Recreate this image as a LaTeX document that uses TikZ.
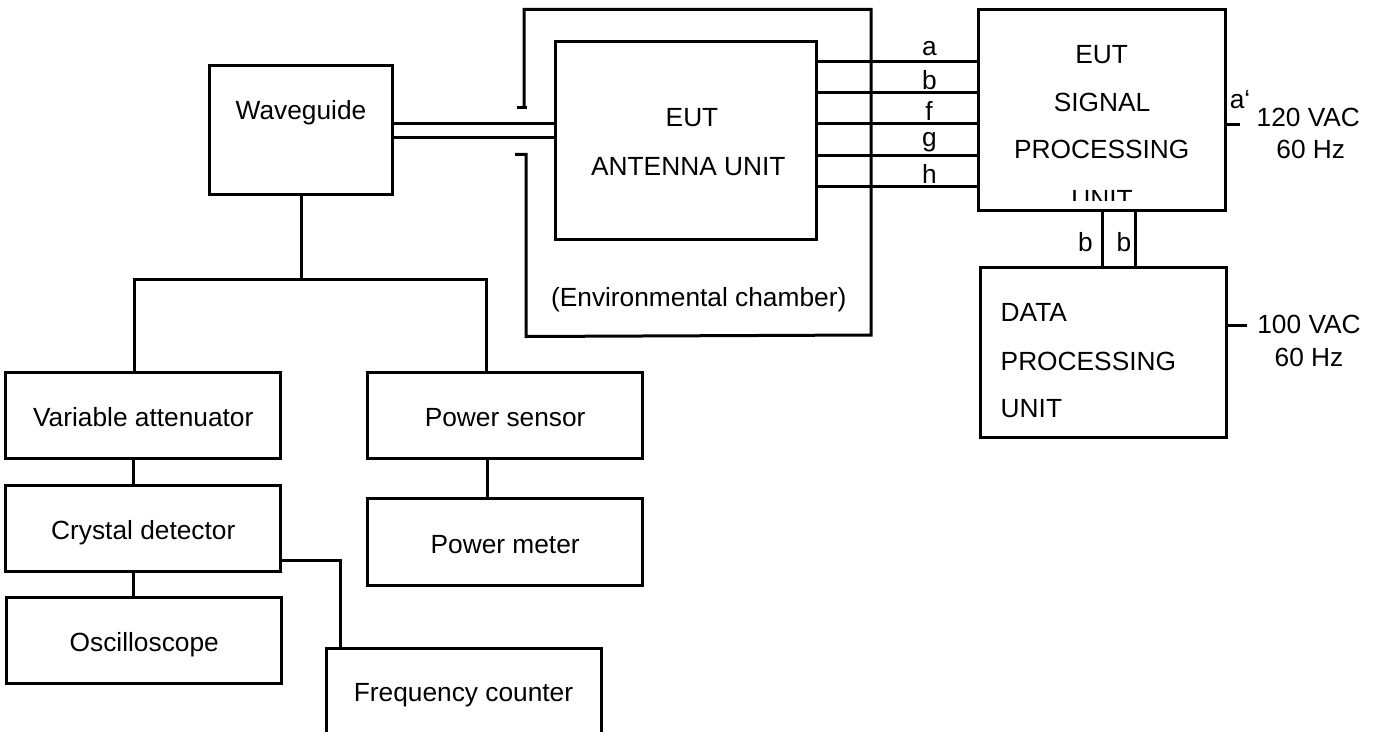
\documentclass[tikz,border=0pt]{standalone}
\usepackage{fontspec}
\setmainfont{Liberation Sans}
\begin{document}
\begin{tikzpicture}[x=1pt,y=-1pt,
  every node/.style={font=\fontsize{26.3}{31}\selectfont, inner sep=0pt, outer sep=0pt},
  box/.style={draw, line width=3pt, rectangle},
  lbox/.style={box, text height=22.8pt, text depth=0pt},
  txt/.style={anchor=base},
  ltxt/.style={anchor=base west},
  wire/.style={line width=3pt},
]
\useasboundingbox (0,0) rectangle (1381,731);
\begin{scope}
\clip (0,0) rectangle (1381,731);
% boxes
\node[box, minimum width=183.3pt, minimum height=129.3pt] (wg) at (301.3,129.7) {};
\node[box, minimum width=260.7pt, minimum height=197.6pt] (ant) at (686.3,140.5) {};
\node[box, minimum width=247.4pt, minimum height=201.4pt] (sig) at (1102,110) {};
\node[box, minimum width=246.7pt, minimum height=169.6pt] (dp) at (1103.35,352.5) {};
\node[lbox, minimum width=274.9pt, minimum height=86pt] (va) at (143.25,415.3) {Variable attenuator};
\node[lbox, minimum width=274.9pt, minimum height=85.6pt] (cd) at (143.25,528.5) {Crystal detector};
\node[lbox, minimum width=275.3pt, minimum height=85.6pt] (osc) at (144.25,640.5) {Oscilloscope};
\node[lbox, minimum width=274.9pt, minimum height=86pt] (ps) at (505.15,415.3) {Power sensor};
\node[lbox, minimum width=274.9pt, minimum height=87pt] (pm) at (505.15,542.2) {Power meter};
\node[box, minimum width=274.9pt, minimum height=131.4pt] (fc) at (463.75,714) {};
% texts
\node[txt] (wgt) at (301,119.3) {Waveguide};
\node[txt] (antt1) at (692,126.7) {EUT};
\node[txt] (antt2) at (688.3,175) {ANTENNA UNIT};
\node[txt] (cht) at (698.7,306) {(Environmental chamber)};
\node[txt] (sigt1) at (1101.7,63.3) {EUT};
\node[txt] (sigt2) at (1102,111) {SIGNAL};
\node[txt] (sigt3) at (1101.7,158.3) {PROCESSING};
\begin{scope}
\clip (980,150) rectangle (1224,200);
\node[txt] (sigt4) at (1102,208.6) {UNIT};
\end{scope}
\node[ltxt] (dpt1) at (1000.7,321.7) {DATA};
\node[ltxt] (dpt2) at (1000.7,370) {PROCESSING};
\node[ltxt] (dpt3) at (1000.7,417.3) {UNIT};
\node[txt] (fct) at (463.5,701.7) {Frequency counter};
\node[txt] (la) at (929.5,55) {a};
\node[txt] (lb) at (929.5,89.5) {b};
\node[txt] (lf) at (929,120.5) {f};
\node[txt] (lg) at (929.5,146.5) {g};
\node[txt] (lh) at (929.5,183.5) {h};
\node[txt] (lap) at (1240,108) {a‘};
\node[txt] (v1) at (1308.3,126.7) {120 VAC};
\node[txt] (f1) at (1310.8,158.3) {60 Hz};
\node[txt] (v2) at (1309,333.3) {100 VAC};
\node[txt] (f2) at (1309,366.7) {60 Hz};
\node[txt] (lb1) at (1085.5,251.7) {b};
\node[txt] (lb2) at (1124,251.7) {b};
% helper coordinates
\coordinate (w1) at (0,61);
\coordinate (w2) at (0,92.3);
\coordinate (w3) at (0,123.5);
\coordinate (w4) at (0,155);
\coordinate (w5) at (0,186);
\coordinate (d1) at (0,123.3);
\coordinate (d2) at (0,137.7);
\coordinate (tl) at (134,279);
\coordinate (tr) at (486.4,279);
\coordinate (xa) at (133.5,0);
\coordinate (xp) at (487.1,0);
\coordinate (k) at (340,560);
\coordinate (b1) at (1102.3,0);
\coordinate (b2) at (1135,0);
\coordinate (pw1) at (1240,124);
\coordinate (pw2) at (1246.7,325);
% connectors
\foreach \w in {w1,w2,w3,w4,w5}
  \draw[wire] (ant.east |- \w) -- (sig.west |- \w);
\draw[wire] (wg.east |- d1) -- (ant.west |- d1);
\draw[wire] (wg.east |- d2) -- (ant.west |- d2);
\draw[wire] (wg.south) -- (wg.south |- tl);
\draw[wire] (va.north -| tl) -- (tl) -- (tr) -- (ps.north -| tr);
\draw[wire] (va.south -| xa) -- (cd.north -| xa);
\draw[wire] (cd.south -| xa) -- (osc.north -| xa);
\draw[wire] (ps.south -| xp) -- (pm.north -| xp);
\draw[wire] (cd.east |- k) -- (k) -- (fc.north -| k);
\draw[wire] (sig.south -| b1) -- (dp.north -| b1);
\draw[wire] (sig.south -| b2) -- (dp.north -| b2);
\draw[wire] (sig.east |- pw1) -- (pw1);
\draw[wire] (dp.east |- pw2) -- (pw2);
% environmental chamber outline
\draw[wire] (516.7,107) -- (527,107);
\draw[wire] (524,107) -- (524,9.3) -- (871,9.3) -- (871,335) -- (526,336.5) -- (526,154.3) -- (515,154.3);
\end{scope}
\end{tikzpicture}
\end{document}
